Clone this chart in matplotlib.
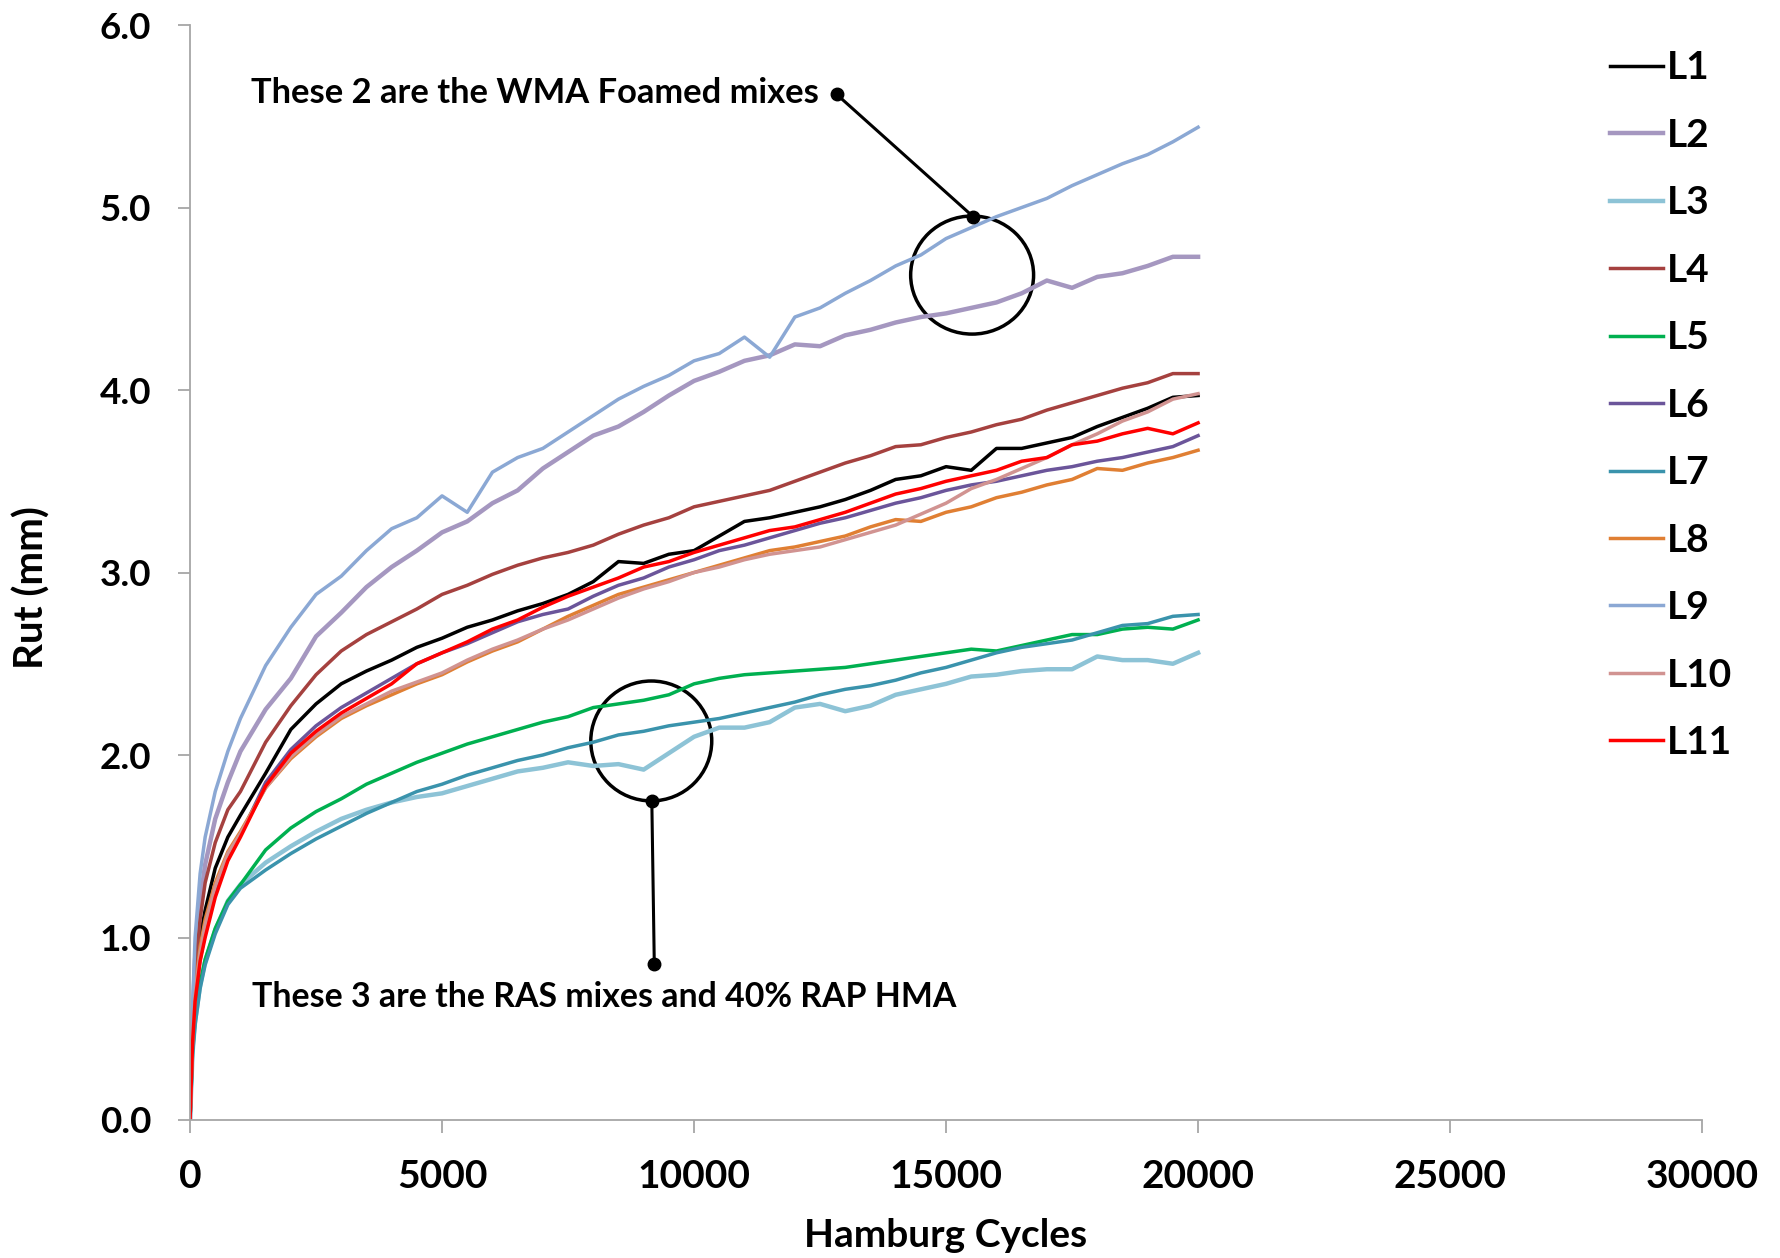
import matplotlib
matplotlib.use('Agg')
import matplotlib.pyplot as plt
from matplotlib.patches import Ellipse

# Hamburg wheel tracking: cycles vs rut depth (mm)
cycles = [0, 50, 100, 200, 300, 500, 750, 1000,
          1500, 2000, 2500, 3000, 3500, 4000, 4500, 5000, 5500, 6000, 6500, 7000,
          7500, 8000, 8500, 9000, 9500, 10000, 10500, 11000, 11500, 12000, 12500,
          13000, 13500, 14000, 14500, 15000, 15500, 16000, 16500, 17000, 17500,
          18000, 18500, 19000, 19500, 20000]

L1 = [0, 0.48, 0.75, 1.00, 1.15, 1.38, 1.55, 1.67,
      1.90, 2.14, 2.28, 2.39, 2.46, 2.52, 2.59, 2.64, 2.70, 2.74, 2.79, 2.83,
      2.88, 2.95, 3.06, 3.05, 3.10, 3.12, 3.20, 3.28, 3.30, 3.33, 3.36,
      3.40, 3.45, 3.51, 3.53, 3.58, 3.56, 3.68, 3.68, 3.71, 3.74,
      3.80, 3.85, 3.90, 3.96, 3.97]
L2 = [0, 0.55, 0.88, 1.20, 1.40, 1.65, 1.85, 2.02,
      2.25, 2.42, 2.65, 2.78, 2.92, 3.03, 3.12, 3.22, 3.28, 3.38, 3.45, 3.57,
      3.66, 3.75, 3.80, 3.88, 3.97, 4.05, 4.10, 4.16, 4.19, 4.25, 4.24,
      4.30, 4.33, 4.37, 4.40, 4.42, 4.45, 4.48, 4.53, 4.60, 4.56,
      4.62, 4.64, 4.68, 4.73, 4.73]
L3 = [0, 0.37, 0.54, 0.74, 0.87, 1.04, 1.20, 1.29,
      1.41, 1.50, 1.58, 1.65, 1.70, 1.74, 1.77, 1.79, 1.83, 1.87, 1.91, 1.93,
      1.96, 1.94, 1.95, 1.92, 2.01, 2.10, 2.15, 2.15, 2.18, 2.26, 2.28,
      2.24, 2.27, 2.33, 2.36, 2.39, 2.43, 2.44, 2.46, 2.47, 2.47,
      2.54, 2.52, 2.52, 2.50, 2.56]
L4 = [0, 0.50, 0.80, 1.10, 1.30, 1.52, 1.70, 1.80,
      2.07, 2.27, 2.44, 2.57, 2.66, 2.73, 2.80, 2.88, 2.93, 2.99, 3.04, 3.08,
      3.11, 3.15, 3.21, 3.26, 3.30, 3.36, 3.39, 3.42, 3.45, 3.50, 3.55,
      3.60, 3.64, 3.69, 3.70, 3.74, 3.77, 3.81, 3.84, 3.89, 3.93,
      3.97, 4.01, 4.04, 4.09, 4.09]
L5 = [0, 0.38, 0.55, 0.75, 0.88, 1.05, 1.20, 1.29,
      1.48, 1.60, 1.69, 1.76, 1.84, 1.90, 1.96, 2.01, 2.06, 2.10, 2.14, 2.18,
      2.21, 2.26, 2.28, 2.30, 2.33, 2.39, 2.42, 2.44, 2.45, 2.46, 2.47,
      2.48, 2.50, 2.52, 2.54, 2.56, 2.58, 2.57, 2.60, 2.63, 2.66,
      2.66, 2.69, 2.70, 2.69, 2.74]
L6 = [0, 0.43, 0.66, 0.88, 1.02, 1.24, 1.43, 1.56,
      1.85, 2.03, 2.16, 2.26, 2.34, 2.42, 2.50, 2.56, 2.61, 2.67, 2.73, 2.77,
      2.80, 2.87, 2.93, 2.97, 3.03, 3.07, 3.12, 3.15, 3.19, 3.23, 3.27,
      3.30, 3.34, 3.38, 3.41, 3.45, 3.48, 3.50, 3.53, 3.56, 3.58,
      3.61, 3.63, 3.66, 3.69, 3.75]
L7 = [0, 0.36, 0.52, 0.72, 0.85, 1.02, 1.18, 1.27,
      1.37, 1.46, 1.54, 1.61, 1.68, 1.74, 1.80, 1.84, 1.89, 1.93, 1.97, 2.00,
      2.04, 2.07, 2.11, 2.13, 2.16, 2.18, 2.20, 2.23, 2.26, 2.29, 2.33,
      2.36, 2.38, 2.41, 2.45, 2.48, 2.52, 2.56, 2.59, 2.61, 2.63,
      2.67, 2.71, 2.72, 2.76, 2.77]
L8 = [0, 0.45, 0.70, 0.95, 1.10, 1.30, 1.47, 1.58,
      1.82, 1.98, 2.10, 2.20, 2.27, 2.33, 2.39, 2.44, 2.51, 2.57, 2.62, 2.69,
      2.76, 2.82, 2.88, 2.92, 2.96, 3.00, 3.04, 3.08, 3.12, 3.14, 3.17,
      3.20, 3.25, 3.29, 3.28, 3.33, 3.36, 3.41, 3.44, 3.48, 3.51,
      3.57, 3.56, 3.60, 3.63, 3.67]
L9 = [0, 0.62, 1.00, 1.35, 1.55, 1.80, 2.02, 2.20,
      2.49, 2.70, 2.88, 2.98, 3.12, 3.24, 3.30, 3.42, 3.33, 3.55, 3.63, 3.68,
      3.77, 3.86, 3.95, 4.02, 4.08, 4.16, 4.20, 4.29, 4.18, 4.40, 4.45,
      4.53, 4.60, 4.68, 4.74, 4.83, 4.89, 4.95, 5.00, 5.05, 5.12,
      5.18, 5.24, 5.29, 5.36, 5.44]
L10 = [0, 0.44, 0.68, 0.92, 1.07, 1.28, 1.46, 1.57,
       1.82, 1.99, 2.11, 2.21, 2.28, 2.35, 2.40, 2.45, 2.52, 2.58, 2.63, 2.69,
       2.74, 2.80, 2.86, 2.91, 2.95, 3.00, 3.03, 3.07, 3.10, 3.12, 3.14,
       3.18, 3.22, 3.26, 3.32, 3.38, 3.46, 3.51, 3.57, 3.63, 3.70,
       3.76, 3.83, 3.88, 3.95, 3.98]
L11 = [0, 0.42, 0.65, 0.87, 1.00, 1.22, 1.42, 1.55,
       1.83, 2.01, 2.13, 2.23, 2.31, 2.39, 2.50, 2.56, 2.62, 2.69, 2.74, 2.81,
       2.87, 2.92, 2.97, 3.03, 3.06, 3.11, 3.15, 3.19, 3.23, 3.25, 3.29,
       3.33, 3.38, 3.43, 3.46, 3.50, 3.53, 3.56, 3.61, 3.63, 3.70,
       3.72, 3.76, 3.79, 3.76, 3.82]

names = ['L1', 'L2', 'L3', 'L4', 'L5', 'L6', 'L7', 'L8', 'L9', 'L10', 'L11']
colors = ['#000000', '#A597C0', '#8DC3D6', '#A5413F', '#00B050', '#6B559A',
          '#3A93AC', '#E07F33', '#8BA8D4', '#D19391', '#FF0000']
widths = [2.5, 3.2, 3.2, 2.5, 2.5, 2.5, 2.5, 2.5, 2.5, 2.5, 2.5]

xticks = [0, 5000, 10000, 15000, 20000, 25000, 30000]
yticks = [0.0, 1.0, 2.0, 3.0, 4.0, 5.0, 6.0]

note_top = 'These 2 are the WMA Foamed mixes'
note_bottom = 'These 3 are the RAS mixes and 40% RAP HMA'


def main():
	plt.rcParams['font.family'] = ['Lato', 'DejaVu Sans']
	plt.rcParams['font.weight'] = 'bold'
	fs = 28
	grey = '#A6A6A6'

	fig = plt.figure(figsize=(17.81, 12.58), dpi=100, facecolor='w')
	ax = fig.add_axes([0.1067, 0.1097, 0.8490, 0.8704])

	series = [L1, L2, L3, L4, L5, L6, L7, L8, L9, L10, L11]
	for ys, name, c, lw in zip(series, names, colors, widths):
		ax.plot(cycles, ys, color=c, lw=lw, label=name, solid_joinstyle='round')

	ax.set_xlim(0, 30000)
	ax.set_ylim(0, 6)
	ax.set_xticks(xticks)
	ax.set_xticklabels([str(t) for t in xticks])
	ax.set_yticks(yticks)
	ax.set_yticklabels(['%.1f' % t for t in yticks])
	ax.tick_params(axis='both', color=grey, length=9, width=1.3, direction='out')
	ax.tick_params(axis='y', pad=19, labelsize=26.5)
	ax.tick_params(axis='x', pad=19, labelsize=28)
	for lab in ax.get_xticklabels() + ax.get_yticklabels():
		lab.set_fontweight('bold')
	for s in ['top', 'right']:
		ax.spines[s].set_visible(False)
	for s in ['left', 'bottom']:
		ax.spines[s].set_color(grey)
		ax.spines[s].set_linewidth(1.3)

	fig.text(0.018, 0.533, 'Rut (mm)', rotation=90, ha='center', va='center', fontsize=29, fontweight='bold')
	fig.text(0.531, 0.0175, 'Hamburg Cycles', ha='center', va='center', fontsize=28, fontweight='bold')

	# callouts
	ax.add_patch(Ellipse((15517, 4.63), 2439, 0.647, fill=False, ec='black', lw=2.5))
	ax.plot([12830, 15537], [5.62, 4.95], color='black', lw=2.2, marker='o', ms=9)
	ax.text(1210, 5.63, note_top, fontsize=24.8, fontweight='bold', va='center', ha='left')

	ax.add_patch(Ellipse((9151, 2.077), 2400, 0.657, fill=False, ec='black', lw=2.5))
	ax.plot([9162, 9211], [1.748, 0.855], color='black', lw=2.2, marker='o', ms=9)
	ax.text(1230, 0.674, note_bottom, fontsize=24.4, fontweight='bold', va='center', ha='left')

	leg = fig.legend(loc='upper left', bbox_to_anchor=(0.904, 0.960), frameon=False, fontsize=fs,
		handlelength=1.35, handletextpad=0.1, labelspacing=0.835, borderpad=0, borderaxespad=0)
	for t in leg.get_texts():
		t.set_fontweight('bold')

	fig.savefig('out.png', dpi=100)


if __name__ == '__main__':
	main()
